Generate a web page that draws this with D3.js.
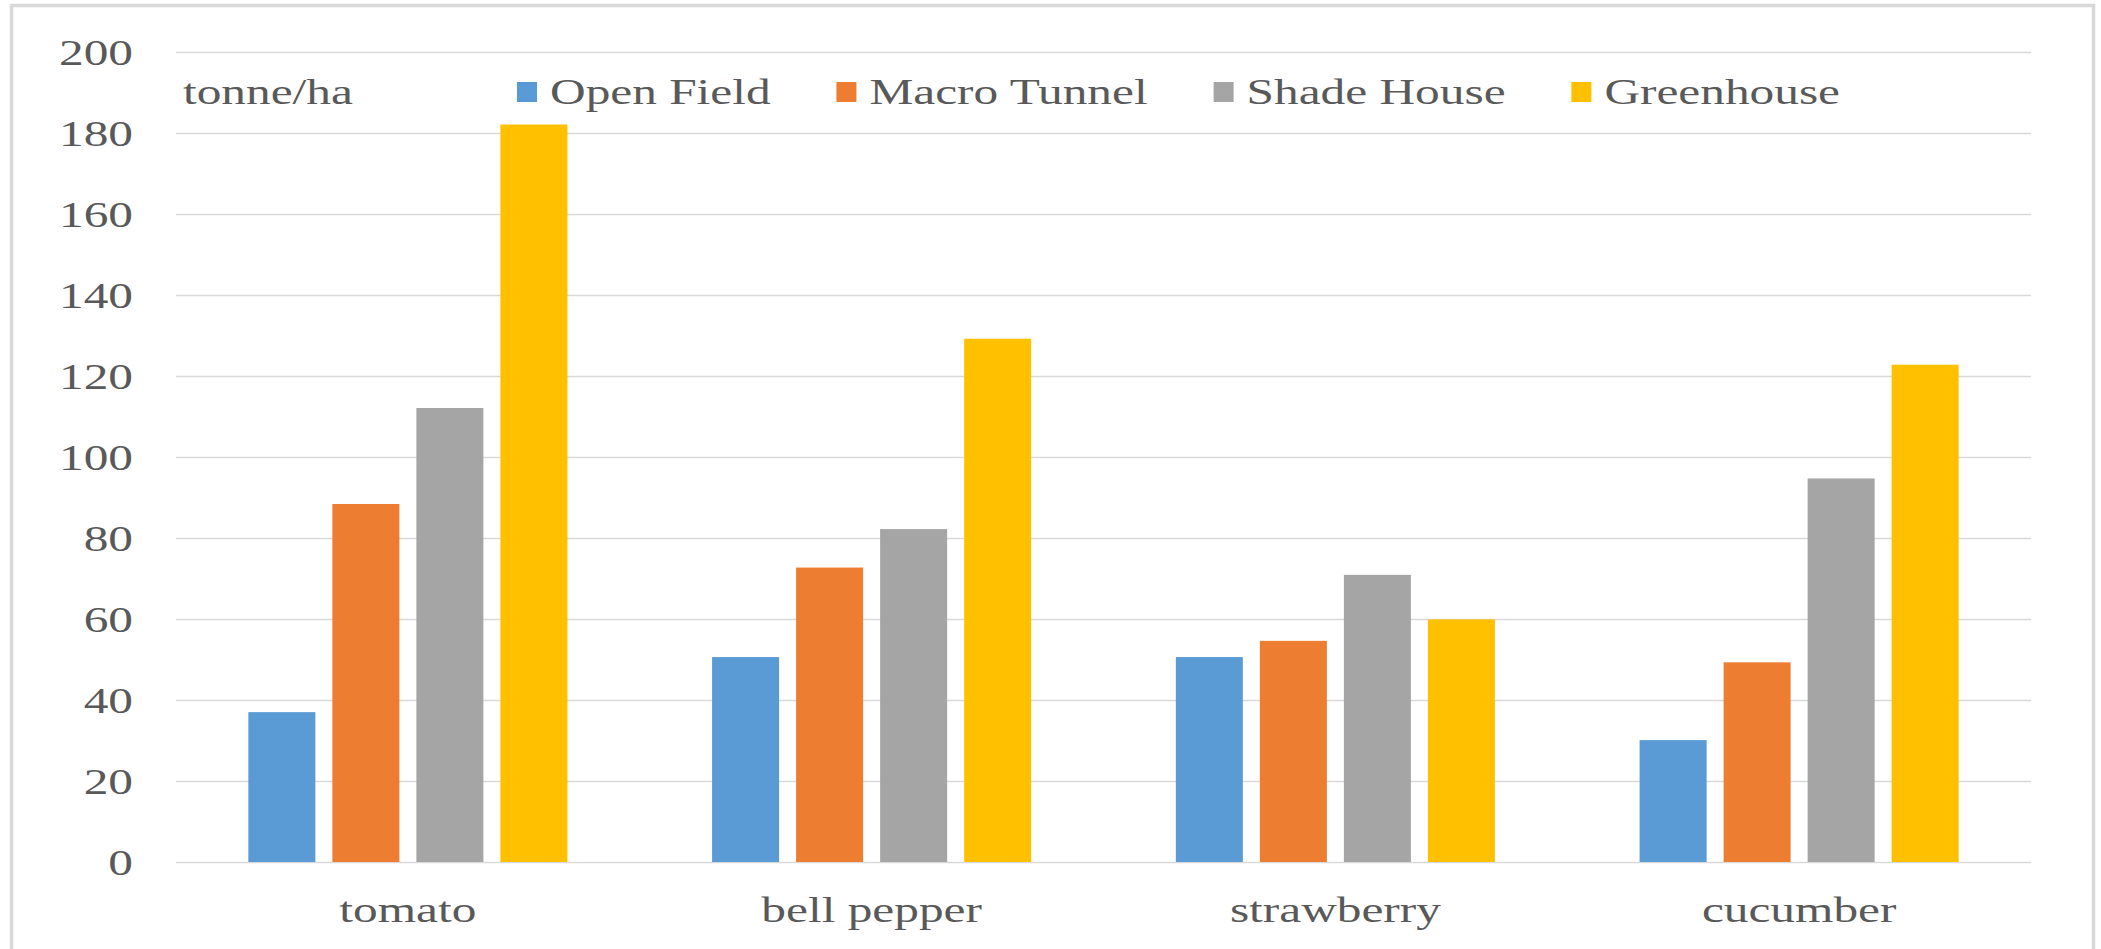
<!DOCTYPE html>
<html>
<head>
<meta charset="utf-8">
<script src="https://cdn.jsdelivr.net/npm/d3@7"></script>
<style>
  html, body { margin: 0; padding: 0; background: #ffffff; overflow: hidden; }
  svg { display: block; }
  text { font-family: "Liberation Serif", "Times New Roman", serif; fill: #595959; }
</style>
</head>
<body>
<svg id="chart" width="2101" height="949"></svg>
<script>
// ---- data ----
const categories = ["tomato", "bell pepper", "strawberry", "cucumber"];
const seriesNames = ["Open Field", "Macro Tunnel", "Shade House", "Greenhouse"];
const openField   = [37.0, 50.6, 50.6, 30.1];
const macroTunnel = [88.4, 72.7, 54.6, 49.3];
const shadeHouse  = [112.1, 82.2, 70.9, 94.7];
const greenhouse  = [182.1, 129.2, 59.9, 122.8];
const yTicks = [0, 20, 40, 60, 80, 100, 120, 140, 160, 180, 200];
const unitLabel = "tonne/ha";
const colors = ["#5B9BD5", "#ED7D31", "#A5A5A5", "#FFC000"];

const seriesValues = [openField, macroTunnel, shadeHouse, greenhouse];
const table = categories.map((c, i) => ({
  category: c,
  values: seriesNames.map((s, j) => ({ series: s, value: seriesValues[j][i] }))
}));

// ---- layout ----
const svg = d3.select("#chart");
const W = 2101, H = 949;
const plot = { left: 176, right: 2031, top: 52, bottom: 862 };
const SX = 1.41;          // horizontal text stretch seen in the reference
const FS = 35;            // font size

// outer frame
svg.append("rect")
  .attr("x", 11.5).attr("y", 5.5)
  .attr("width", 2082).attr("height", 970)
  .attr("fill", "#ffffff")
  .attr("stroke", "#d9d9d9").attr("stroke-width", 3.5);

const y = d3.scaleLinear().domain([0, 200]).range([plot.bottom, plot.top]);
const x0 = d3.scaleBand().domain(categories).range([plot.left, plot.right])
  .paddingInner(0.312).paddingOuter(0.156);
const x1 = d3.scaleBand().domain(seriesNames).range([0, x0.bandwidth()])
  .paddingInner(0.2024).paddingOuter(0);
const color = d3.scaleOrdinal().domain(seriesNames).range(colors);

// gridlines
const grid = svg.append("g").attr("transform", `translate(${plot.left},0)`)
  .call(d3.axisLeft(y).tickValues(yTicks).tickSize(-(plot.right - plot.left)).tickFormat(""));
grid.select(".domain").remove();
grid.selectAll("line").attr("stroke", "#d9d9d9").attr("stroke-width", 1.6);

// y tick labels
const yAxis = svg.append("g").attr("transform", `translate(133,0)`)
  .call(d3.axisLeft(y).tickValues(yTicks).tickSize(0).tickFormat(d3.format("d")));
yAxis.select(".domain").remove();
yAxis.selectAll("text")
  .attr("x", null).attr("dy", null)
  .attr("text-anchor", "end")
  .attr("transform", `translate(0,12) scale(${SX},1)`)
  .style("font-size", FS + "px")
  .style("fill", "#595959");

// bars
const groups = svg.append("g").selectAll("g").data(table).join("g")
  .attr("transform", d => `translate(${x0(d.category)},0)`);
groups.selectAll("rect").data(d => d.values).join("rect")
  .attr("x", d => x1(d.series))
  .attr("y", d => y(d.value))
  .attr("width", x1.bandwidth())
  .attr("height", d => y(0) - y(d.value))
  .attr("fill", d => color(d.series));

// category labels
const xAxis = svg.append("g").attr("transform", `translate(0,${plot.bottom})`)
  .call(d3.axisBottom(x0).tickSize(0));
xAxis.select(".domain").remove();
xAxis.selectAll("text")
  .attr("y", null).attr("dy", null)
  .attr("text-anchor", "middle")
  .attr("transform", `translate(0,60) scale(${SX},1)`)
  .style("font-size", FS + "px")
  .style("fill", "#595959");

// unit label
svg.append("text")
  .attr("transform", `translate(183,104) scale(${SX},1)`)
  .style("font-size", FS + "px")
  .text(unitLabel);

// legend
const legend = svg.append("g");
const items = legend.selectAll("g").data(seriesNames).join("g");
items.append("rect")
  .attr("width", 20).attr("height", 20)
  .attr("y", 82)
  .attr("fill", d => color(d));
items.append("text")
  .attr("transform", `translate(33,104) scale(${SX},1)`)
  .style("font-size", FS + "px")
  .text(d => d);
const widths = [];
items.each(function () { widths.push(this.getBBox().width); });
const legStart = 517, legEnd = 1840;
const total = d3.sum(widths);
const spacing = (legEnd - legStart - total) / (seriesNames.length - 1);
let cx = legStart;
items.each(function (d, i) {
  d3.select(this).attr("transform", `translate(${cx},0)`);
  cx += widths[i] + spacing;
});
</script>
</body>
</html>
